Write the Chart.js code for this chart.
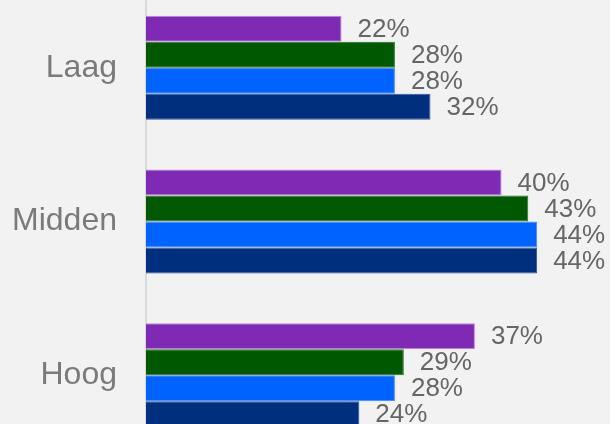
<!DOCTYPE html>
<html>
<head>
<meta charset="utf-8">
<script src="https://cdn.jsdelivr.net/npm/chart.js@4"></script>
<style>
  html, body { margin: 0; padding: 0; background: #f2f2f2; overflow: hidden; }
  #wrap { position: absolute; left: 0; top: -9px; width: 610px; height: 461px; }
</style>
</head>
<body>
<div id="wrap"><canvas id="c" width="610" height="461"></canvas></div>
<script>
const categories = ["Laag", "Midden", "Hoog"];
const seriesPurple = [22, 40, 37];
const seriesGreen = [28, 43, 29];
const seriesBlue = [28, 44, 28];
const seriesNavy = [32, 44, 24];

const colors = ["#7f2ab5", "#005900", "#0062ff", "#00307d"];
const borders = ["#b98fd8", "#266f26", "#3f86ff", "#2a559b"];

const labelPlugin = {
  id: "valueLabels",
  afterDatasetsDraw(chart) {
    const ctx = chart.ctx;
    ctx.save();
    ctx.font = "26px 'Liberation Sans', Arial, sans-serif";
    ctx.fillStyle = "#666666";
    ctx.textAlign = "left";
    ctx.textBaseline = "middle";
    chart.data.datasets.forEach((ds, i) => {
      const meta = chart.getDatasetMeta(i);
      meta.data.forEach((bar, j) => {
        ctx.fillText(ds.data[j] + "%", bar.x + 16, bar.y + 1);
      });
    });
    ctx.restore();
  }
};

const ds = [seriesPurple, seriesGreen, seriesBlue, seriesNavy].map((d, i) => ({
  data: d,
  backgroundColor: colors[i],
  borderColor: borders[i],
  borderWidth: 1,
  borderSkipped: "start",
  barPercentage: 1,
  categoryPercentage: 0.677
}));

new Chart(document.getElementById("c"), {
  type: "bar",
  data: { labels: categories, datasets: ds },
  options: {
    indexAxis: "y",
    responsive: false,
    animation: false,
    layout: { padding: { left: 0, right: 19.5, top: 0, bottom: 0 } },
    plugins: { legend: { display: false }, tooltip: { enabled: false } },
    scales: {
      x: { display: false, min: 0, max: 50 },
      y: {
        afterFit(scale) {
          scale.width = 146;
          scale.paddingTop = 0;
          scale.paddingBottom = 0;
        },
        grid: { display: true, drawOnChartArea: false, drawTicks: false },
        border: { display: true, color: "#d9d9d9", width: 2 },
        ticks: {
          padding: 29,
          color: "#7a7a7a",
          font: { family: "'Liberation Sans', Arial, sans-serif", size: 32 }
        }
      }
    }
  },
  plugins: [labelPlugin]
});
</script>
</body>
</html>
